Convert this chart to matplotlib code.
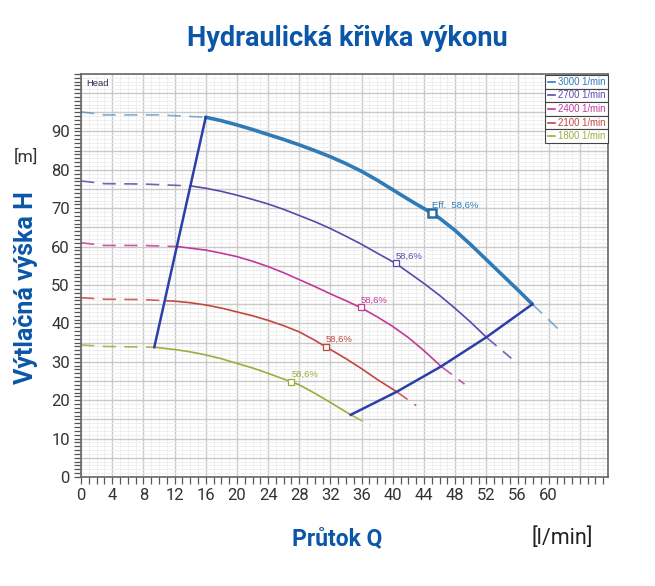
import matplotlib
matplotlib.use("Agg")
import matplotlib.pyplot as plt
from matplotlib.patches import Rectangle
from matplotlib.ticker import MultipleLocator

# otacky a barvy
speeds = [3000, 2700, 2400, 2100, 1800]
colors = ["#2f7bb6", "#5a48ae", "#c23a98", "#c2473f", "#9aae3c"]

# prutok Q [l/min] a vyska H [m]
q_left = {
    3000: [0, 3, 10, 16],
    2700: [0, 3, 8, 14.1],
    2400: [0, 3, 8, 12.5],
    2100: [0, 3, 8, 10.9],
    1800: [0, 3, 9.4],
}
h_left = {
    3000: [95.1, 94.3, 94.3, 93.7],
    2700: [77.1, 76.4, 76.3, 75.8],
    2400: [61.0, 60.3, 60.3, 60.0],
    2100: [46.7, 46.3, 46.2, 45.9],
    1800: [34.4, 34.0, 33.8],
}
q_mid = {
    3000: [16, 18, 20, 22, 24, 26, 28, 30, 32, 34, 36, 38, 40, 42, 44, 45,
           46, 48, 50, 52, 54, 56, 57.9],
    2700: [14.1, 16, 18, 20, 22, 24, 26, 28, 30, 32, 34, 36, 38, 40.4, 42,
           44, 46, 48, 50, 52],
    2400: [12.5, 14, 16, 18, 20, 22, 24, 26, 28, 30, 32, 34, 36, 38, 40, 42,
           44, 46.2],
    2100: [10.9, 12, 14, 16, 18, 20, 22, 24, 26, 28, 30, 31.4, 32, 34, 36,
           38, 40.5],
    1800: [9.4, 12, 14, 16, 18, 20, 22, 24, 26, 27, 28, 30, 32, 34.6],
}
h_mid = {
    3000: [93.7, 92.8, 91.7, 90.5, 89.2, 87.9, 86.5, 85.0, 83.4, 81.6, 79.6,
           77.3, 74.8, 72.3, 69.9, 68.8, 67.4, 64.2, 60.5, 56.6, 52.7, 48.8, 45.0],
    2700: [75.8, 75.2, 74.4, 73.4, 72.3, 71.1, 69.7, 68.1, 66.5, 64.7, 62.7,
           60.6, 58.3, 55.6, 53.3, 50.4, 47.3, 43.9, 40.3, 36.4],
    2400: [60.0, 59.6, 59.1, 58.3, 57.4, 56.2, 54.8, 53.2, 51.4, 49.6, 47.7,
           45.9, 44.0, 41.7, 39.2, 36.3, 32.9, 28.8],
    2100: [45.9, 45.8, 45.4, 44.8, 44.0, 43.0, 42.0, 40.8, 39.4, 37.8, 35.6,
           33.9, 33.2, 30.8, 28.2, 25.4, 22.2],
    1800: [33.8, 33.2, 32.6, 31.8, 30.8, 29.6, 28.4, 27.0, 25.5, 24.8, 24.0,
           21.8, 19.4, 16.2],
}
q_right = {3000: [57.9, 61.5], 2700: [52, 55.2], 2400: [46.2, 49.2],
           2100: [40.5, 43], 1800: [34.6, 37.1]}
h_right = {3000: [45, 38], 2700: [36.4, 30.9], 2400: [28.8, 24.2],
           2100: [22.2, 18.6], 1800: [16.2, 13.5]}

# body ucinnosti
eff_q = {3000: 45, 2700: 40.4, 2400: 35.9, 2100: 31.4, 1800: 27}
eff_h = {3000: 68.8, 2700: 55.7, 2400: 44.2, 2100: 33.9, 1800: 24.8}
eff_label = "58,6%"

# hranice pracovni oblasti
env_left_q = [9.4, 16]
env_left_h = [33.8, 93.7]
env_low_q = [34.6, 40.5, 46.2, 52, 57.9]
env_low_h = [16.2, 22.2, 28.8, 36.4, 45]

blue = "#0b56a8"

fig = plt.figure(figsize=(6.55, 5.86), dpi=100)
ax = fig.add_axes([0.1237, 0.186, 0.8045, 0.688])
ax.set_xlim(0, 67.6)
ax.set_ylim(0, 105)

ax.xaxis.set_minor_locator(MultipleLocator(1))
ax.yaxis.set_minor_locator(MultipleLocator(1))
ax.grid(which="major", color="#c9c9c9", lw=1.0)
ax.grid(which="minor", color="#ececec", lw=0.6)
ax.set_axisbelow(True)

xt = [t for t in range(0, 68, 4)]
ax.set_xticks(xt)
ax.set_xticklabels([str(t) if t <= 60 else "" for t in xt])
yt = [t for t in range(0, 105, 5)]
ax.set_yticks(yt)
ax.set_yticklabels([str(t) if t % 10 == 0 and t <= 90 else "" for t in yt])
ax.tick_params(which="both", direction="out", length=5, width=0.9,
               color="#555555", labelsize=12, labelcolor="#333333", pad=3)
for lab in ax.get_xticklabels() + ax.get_yticklabels():
    lab.set_family("Roboto")
for s in ax.spines.values():
    s.set_color("#666666")
    s.set_linewidth(1.2)

for sp, c in zip(speeds, colors):
    main = sp == 3000
    ax.plot(q_left[sp], h_left[sp], color=c, lw=1.2, alpha=0.6 if main else 0.85,
            dashes=(8, 5))
    ax.plot(q_right[sp], h_right[sp], color=c, lw=1.2, alpha=0.6 if main else 0.85,
            dashes=(8, 5))
    ax.plot(q_mid[sp], h_mid[sp], color=c, lw=2.6 if main else 1.2,
            solid_capstyle="round", solid_joinstyle="round")

ax.plot(env_left_q, env_left_h, color="#2b3fa8", lw=1.8)
ax.plot(env_low_q, env_low_h, color="#2b3fa8", lw=1.8)

for sp, c in zip(speeds, colors):
    main = sp == 3000
    ax.plot(eff_q[sp], eff_h[sp], marker="s", ms=6 if main else 4.5,
            mfc="white", mec="#2a6aa5" if main else c, mew=1.8 if main else 0.9,
            zorder=5)
    ax.annotate(("Eff.  " if main else "") + eff_label, (eff_q[sp], eff_h[sp]),
                xytext=(0, 2), textcoords="offset points", ha="left", va="bottom",
                fontsize=6.8, color=c, family=["Liberation Sans", "DejaVu Sans"])

ax.text(0.009, 0.988, "Head", transform=ax.transAxes, ha="left", va="top",
        fontsize=6.8, color="#2d2d5a", family=["Liberation Sans", "DejaVu Sans"])

# legenda
lx, lw_, rh = 0.880, 0.120, 0.0337
for i, (sp, c) in enumerate(zip(speeds, colors)):
    y0 = 0.997 - (i + 1) * rh
    ax.add_patch(Rectangle((lx, y0), lw_, rh, transform=ax.transAxes,
                           facecolor="white", edgecolor="#444444", lw=0.8,
                           zorder=6, clip_on=False))
    ax.plot([lx + 0.006, lx + 0.020], [y0 + rh / 2] * 2, color=c, lw=1.2,
            transform=ax.transAxes, zorder=7, clip_on=False)
    ax.text(lx + 0.025, y0 + rh / 2, f"{sp} 1/min", transform=ax.transAxes,
            ha="left", va="center", fontsize=6.9, color=c, zorder=7,
            family=["Liberation Sans", "DejaVu Sans"])

fig.text(0.531, 0.935, "Hydraulická křivka výkonu", ha="center", va="center",
         fontsize=19.5, fontweight="bold", color=blue, family="Roboto")
fig.text(0.040, 0.51, "Výtlačná výška H", rotation=90, ha="center", va="center",
         fontsize=18, fontweight="bold", color=blue, family="Roboto")
fig.text(0.040, 0.732, "[m]", ha="center", va="center", fontsize=12.5,
         color="#333333", family="Roboto")
fig.text(0.515, 0.081, "Průtok Q", ha="center", va="center", fontsize=16.5,
         fontweight="bold", color=blue, family="Roboto")
fig.text(0.858, 0.082, "[l/min]", ha="center", va="center", fontsize=15.5,
         color="#222222", family="Roboto")

fig.savefig("out.png", dpi=100)
